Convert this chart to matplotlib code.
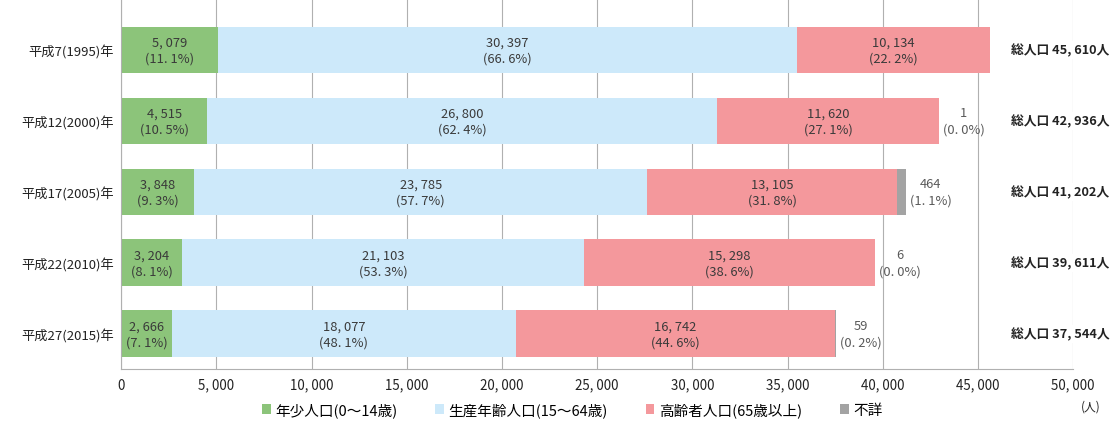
import matplotlib.pyplot as plt
from matplotlib.patches import Patch

plt.rcParams['font.family'] = ['Noto Sans CJK JP', 'DejaVu Sans']

years = ["平成7(1995)年", "平成12(2000)年", "平成17(2005)年", "平成22(2010)年", "平成27(2015)年"]
young = [5079, 4515, 3848, 3204, 2666]
working = [30397, 26800, 23785, 21103, 18077]
elderly = [10134, 11620, 13105, 15298, 16742]
unknown = [0, 1, 464, 6, 59]
totals = [45610, 42936, 41202, 39611, 37544]

young_pct = [11.1, 10.5, 9.3, 8.1, 7.1]
working_pct = [66.6, 62.4, 57.7, 53.3, 48.1]
elderly_pct = [22.2, 27.1, 31.8, 38.6, 44.6]
unknown_pct = [None, 0.0, 1.1, 0.0, 0.2]

series_names = ["年少人口(0～14歳)", "生産年齢人口(15～64歳)", "高齢者人口(65歳以上)", "不詳"]
colors = ["#8cc47a", "#cde9fa", "#f4989c", "#a3a3a3"]
ticks = [0, 5000, 10000, 15000, 20000, 25000, 30000, 35000, 40000, 45000, 50000]


def fmt_num(v):
    return f"{v:,}".replace(",", ", ")


def fmt_pct(p):
    return f"({p:.1f}%)".replace(".", ". ")


fig = plt.figure(figsize=(11.11, 4.27), dpi=100)
ax = fig.add_axes([0.109, 0.133, 0.857, 0.867])

ypos = list(range(len(years)))
bar_h = 0.66
text_color = "#3a3a3a"

left = [0] * len(years)
for vals, pcts, col in [(young, young_pct, colors[0]),
                        (working, working_pct, colors[1]),
                        (elderly, elderly_pct, colors[2])]:
    ax.barh(ypos, vals, left=left, height=bar_h, color=col, zorder=2)
    for i, (v, p) in enumerate(zip(vals, pcts)):
        ax.text(left[i] + v / 2, i, fmt_num(v) + "\n" + fmt_pct(p),
                ha="center", va="center", fontsize=9.3, color=text_color,
                linespacing=1.3, zorder=3)
    left = [l + v for l, v in zip(left, vals)]

ax.barh(ypos, unknown, left=left, height=bar_h, color=colors[3], zorder=2)
for i, (v, p) in enumerate(zip(unknown, unknown_pct)):
    if p is None:
        continue
    ax.text(left[i] + v + 1300, i, fmt_num(v) + "\n" + fmt_pct(p),
            ha="center", va="center", fontsize=9.3, color="#5a5a5a",
            linespacing=1.3, zorder=3)

for i, t in enumerate(totals):
    ax.text(49300, i, "総人口 " + fmt_num(t) + "人", ha="center", va="center",
            fontsize=9.2, fontweight="bold", color="#222222", clip_on=False,
            bbox=dict(facecolor="white", edgecolor="none", pad=1.5), zorder=4)

ax.set_xlim(0, 50000)
ax.set_ylim(4.5, -0.72)
ax.set_xticks(ticks)
ax.set_xticklabels([fmt_num(t) for t in ticks], fontsize=9.6, color="#222222")
ax.set_yticks(ypos)
ax.set_yticklabels(years, fontsize=9.5, color="#222222")
ax.tick_params(length=0, pad=6)
ax.tick_params(axis="y", pad=5)

ax.grid(axis="x", color="#b0b0b0", linewidth=0.8, zorder=0)
for s in ["top", "right"]:
    ax.spines[s].set_visible(False)
for s in ["left", "bottom"]:
    ax.spines[s].set_color("#b0b0b0")
    ax.spines[s].set_linewidth(0.8)

fig.text(0.982, 0.047, "(人)", ha="center", va="center", fontsize=8.5, color="#222222")

handles = [Patch(facecolor=c, edgecolor="none") for c in colors]
fig.legend(handles, series_names, loc="center", bbox_to_anchor=(0.515, 0.038),
           ncol=4, frameon=False, fontsize=10.5, handlelength=0.6, handleheight=0.6,
           handletextpad=0.3, columnspacing=2.6)

fig.savefig("out.png", dpi=100)
